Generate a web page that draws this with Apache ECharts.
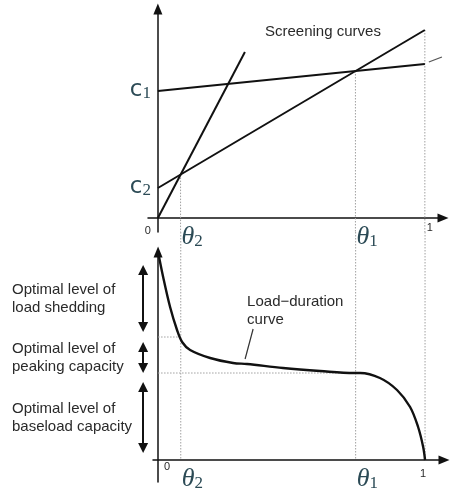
<!DOCTYPE html>
<html><head><meta charset="utf-8">
<script src="https://cdn.jsdelivr.net/npm/echarts@6/dist/echarts.min.js"></script>
<style>html,body{margin:0;padding:0;background:#fff}#c{width:452px;height:492px}</style>
</head><body><div id="c"></div><script>
// ---------- Top panel: screening curves ----------
const steepLine = [[0, 0], [0.326, 0.83]];
const midLine = [[0, 0.15], [1, 0.94]];
const flatLine = [[0, 0.635], [1, 0.77]];
const flatExt = [[1.015, 0.78], [1.064, 0.805]];
const c1 = 0.635, c2 = 0.15;
const theta2 = 0.085, theta1 = 0.74;
// vertical guide lines: [x, y where they start in the top panel]
const topDrops = [[theta2, 0.217], [theta1, 0.735], [1, 0.94]];
// ---------- Bottom panel: load-duration curve ----------
const ldcX = [0, 0.019, 0.045, 0.071, 0.09, 0.12, 0.195, 0.281, 0.333, 0.468, 0.607, 0.734, 0.757, 0.831, 0.895, 0.944, 0.974, 0.993, 1.0];
const ldcY = [1.04, 0.915, 0.765, 0.65, 0.59, 0.55, 0.51, 0.485, 0.48, 0.46, 0.445, 0.435, 0.435, 0.41, 0.35, 0.265, 0.165, 0.065, 0];
const levelPeak = 0.615, levelBase = 0.435;
const bandX = -0.056;
const bands = [[0.95, 0.665], [0.565, 0.46], [0.365, 0.06]];
const leader = [[0.356, 0.655], [0.326, 0.505]];
const bandLabels = ['Optimal level of\nload shedding', 'Optimal level of\npeaking capacity', 'Optimal level of\nbaseload capacity'];

const topRange = {x: [-0.037, 1.068], y: [-0.07, 1.045]};
const botRange = {x: [-0.019, 1.071], y: [-0.11, 1.04]};
const botExtend = 1.14; // guide lines continue above bottom panel

const chart = echarts.init(document.getElementById('c'), null, {renderer: 'canvas'});
const axisLine = {show: true, onZero: true, symbol: ['none', 'triangle'], symbolSize: [9, 11],
  lineStyle: {color: '#111', width: 1.5}};
const ax = (min, max) => ({type: 'value', min, max, axisTick: {show: false}, axisLabel: {show: false},
  splitLine: {show: false}, axisLine});
const solid = {color: '#111', width: 2};
const dotted = {color: '#a0a0a0', width: 1, type: [1.5, 1.5]};
const seg = (g, data, style, extra) => Object.assign({type: 'line', xAxisIndex: g, yAxisIndex: g, data,
  symbol: 'none', silent: true, animation: false, lineStyle: style, z: 2}, extra || {});

const series = [];
topDrops.forEach(d => series.push(seg(0, [[d[0], d[1]], [d[0], topRange.y[0]]], dotted, {z: 1})));
topDrops.forEach(d => series.push(seg(1, [[d[0], botExtend], [d[0], 0]], dotted, {clip: false, z: 1})));
series.push(seg(1, [[0, levelPeak], [theta2, levelPeak]], dotted, {z: 1}));
series.push(seg(1, [[0, levelBase], [theta1, levelBase]], dotted, {z: 1}));
series.push(seg(0, steepLine, solid));
series.push(seg(0, midLine, solid));
series.push(seg(0, flatLine, solid));
series.push(seg(0, flatExt, {color: '#555', width: 1.3}, {clip: false}));
series.push(seg(1, ldcX.map((x, i) => [x, ldcY[i]]), {color: '#111', width: 2.4}, {smooth: 0.35, clip: false}));
series.push(seg(1, leader, {color: '#333', width: 1.2}));
series.push({type: 'lines', coordinateSystem: 'cartesian2d', xAxisIndex: 1, yAxisIndex: 1, clip: false,
  silent: true, animation: false, symbol: ['triangle', 'triangle'], symbolSize: 10,
  lineStyle: {color: '#111', width: 2, opacity: 1},
  data: bands.map(b => ({coords: [[bandX, b[0]], [bandX, b[1]]]}))});

chart.setOption({
  animation: false,
  grid: [
    {left: 148, top: 9, width: 295, height: 223, outerBoundsMode: 'none'},
    {left: 153, top: 252, width: 291, height: 230, outerBoundsMode: 'none'}
  ],
  xAxis: [Object.assign(ax(topRange.x[0], topRange.x[1]), {gridIndex: 0}),
          Object.assign(ax(botRange.x[0], botRange.x[1]), {gridIndex: 1})],
  yAxis: [Object.assign(ax(topRange.y[0], topRange.y[1]), {gridIndex: 0}),
          Object.assign(ax(botRange.y[0], botRange.y[1]), {gridIndex: 1})],
  series
});

const P0 = v => chart.convertToPixel({gridIndex: 0}, v);
const P1 = v => chart.convertToPixel({gridIndex: 1}, v);
const mathColor = '#2b4a55';
const txtColor = '#2a2a2a';
const sans = '"Liberation Sans", Arial, sans-serif';
const mathRich = {
  t: {fontFamily: '"Liberation Serif"', fontStyle: 'italic', fontSize: 26, fill: mathColor, verticalAlign: 'bottom', lineHeight: 24},
  c: {fontFamily: '"DejaVu Sans"', fontSize: 23, fill: mathColor, verticalAlign: 'bottom', lineHeight: 24},
  s: {fontFamily: '"Liberation Serif"', fontSize: 17, fill: mathColor, verticalAlign: 'bottom', lineHeight: 13}
};
const T = (x, y, text, o) => ({type: 'text', x, y, silent: true,
  style: Object.assign({text, fill: txtColor, font: '15px ' + sans, align: 'left', verticalAlign: 'middle'}, o || {})});
const M = (x, y, text, align) => T(x, y, text, {rich: mathRich, align: align || 'left', verticalAlign: 'middle'});

const g = [];
const o0 = P0([0, 0]), o1 = P1([0, 0]);
// y-axis math labels
[[c1, '1'], [c2, '2']].forEach(([v, n]) => { const p = P0([0, v]); g.push(M(p[0] - 7, p[1] - 1, `{c|c}{s|${n}}`, 'right')); });
// theta labels in both panels
[[theta2, '2'], [theta1, '1']].forEach(([v, n]) => {
  const a = P0([v, 0]), b = P1([v, 0]);
  g.push(M(a[0] + 1, a[1] + 20, `{t|θ}{s|${n}}`));
  g.push(M(b[0] + 1, b[1] + 20, `{t|θ}{s|${n}}`));
});
const small = (x, y, t) => T(x, y, t, {font: '11px ' + sans, align: 'center'});
g.push(small(o0[0] - 10, o0[1] + 13, '0'));
g.push(small(P0([1, 0])[0] + 5, o0[1] + 10, '1'));
g.push(small(o1[0] + 9, o1[1] + 7, '0'));
g.push(small(P1([1, 0])[0] - 2, o1[1] + 14, '1'));
// text annotations
g.push(T(265, 32, 'Screening curves'));
const lp = P1(leader[0]);
g.push(T(lp[0] - 6, lp[1] - 18, 'Load\u2212duration\ncurve', {lineHeight: 18}));
bands.forEach((b, i) => {
  const p = P1([bandX, (b[0] + b[1]) / 2]);
  g.push(T(12, p[1], bandLabels[i], {lineHeight: 18}));
});
chart.setOption({graphic: g});
</script></body></html>
